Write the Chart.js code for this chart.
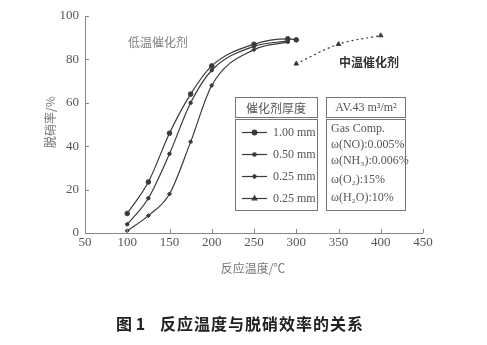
<!DOCTYPE html>
<html>
<head>
<meta charset="utf-8">
<script src="https://cdn.jsdelivr.net/npm/chart.js@4.4.0/dist/chart.umd.min.js"></script>
<style>
  html, body { margin: 0; padding: 0; background: #fff; }
  #wrap { width: 487px; height: 345px; }
</style>
</head>
<body>
<div id="wrap"><canvas id="c"></canvas></div>
<script>
// 温度 (℃) 与脱硝率 (%)
const temps1 = [100, 125, 150, 175, 200, 250, 290, 300];
const rate1 = [9, 23.5, 46, 64, 77, 87, 89.5, 89];       // 1.00 mm
const temps2 = [100, 125, 150, 175, 200, 250, 290];
const rate2 = [4, 16, 36.5, 60, 75, 86, 88.5];           // 0.50 mm
const temps3 = [100, 125, 150, 175, 200, 250, 290];
const rate3 = [1, 8, 18, 42, 68, 84.5, 88];              // 0.25 mm
const temps4 = [300, 350, 400];
const rate4 = [78, 87, 91];                              // 0.25 mm 中温

const xTicks = [50, 100, 150, 200, 250, 300, 350, 400, 450];
const yTicks = [0, 20, 40, 60, 80, 100];

const legendLabels = ['1.00 mm', '0.50 mm', '0.25 mm', '0.25 mm'];
const gasLines = ['Gas Comp.', 'ω(NO):0.005%', 'ω(NH₃):0.006%', 'ω(O₂):15%', 'ω(H₂O):10%'];

const ink = '#3a3a3a';
const serif = '"Liberation Serif", "DejaVu Serif", serif';
const cjk = '"Noto Sans CJK SC", sans-serif';

function pts(xs, ys) {
  return xs.map((x, i) => ({ x: x, y: ys[i] }));
}

function series(label, xs, ys, style, radius, dashed) {
  return {
    label: label,
    data: pts(xs, ys),
    borderColor: ink,
    backgroundColor: ink,
    borderWidth: 1.2,
    borderDash: dashed ? [2, 3] : [],
    pointStyle: style,
    pointRadius: radius,
    pointBorderWidth: 1,
    cubicInterpolationMode: 'monotone',
    tension: 0.4
  };
}

// 坐标轴刻度、注释文字和图例框
const decor = {
  id: 'decor',
  afterDraw(chart) {
    const ctx = chart.ctx;
    const xs = chart.scales.x, ys = chart.scales.y;
    const a = chart.chartArea;
    ctx.save();

    // 轴线与向内的刻度
    ctx.strokeStyle = '#888';
    ctx.lineWidth = 1;
    ctx.beginPath();
    ctx.moveTo(a.left + 0.5, a.top);
    ctx.lineTo(a.left + 0.5, a.bottom + 0.5);
    ctx.lineTo(a.right, a.bottom + 0.5);
    xTicks.forEach(v => {
      const px = Math.round(xs.getPixelForValue(v)) + 0.5;
      ctx.moveTo(px, a.bottom);
      ctx.lineTo(px, a.bottom - 4);
    });
    yTicks.forEach(v => {
      const py = Math.round(ys.getPixelForValue(v)) + 0.5;
      ctx.moveTo(a.left, py);
      ctx.lineTo(a.left + 4, py);
    });
    ctx.stroke();

    // 刻度文字
    ctx.fillStyle = '#555';
    ctx.font = '13px ' + serif;
    ctx.textAlign = 'center';
    ctx.textBaseline = 'middle';
    xTicks.forEach(v => ctx.fillText(String(v), xs.getPixelForValue(v), a.bottom + 10));
    ctx.textAlign = 'right';
    yTicks.forEach(v => ctx.fillText(String(v), a.left - 6, ys.getPixelForValue(v)));

    // 轴标题
    ctx.fillStyle = '#777';
    ctx.font = '12px ' + cjk;
    ctx.textAlign = 'center';
    ctx.fillText('反应温度/℃', 253, 268);
    ctx.save();
    ctx.translate(50, 122);
    ctx.rotate(-Math.PI / 2);
    ctx.fillText('脱硝率/%', 0, 0);
    ctx.restore();

    // 曲线注释
    ctx.fillStyle = '#808080';
    ctx.font = '12px ' + cjk;
    ctx.fillText('低温催化剂', 158, 42);
    ctx.fillStyle = '#333';
    ctx.font = 'bold 12px ' + cjk;
    ctx.fillText('中温催化剂', 369, 62);

    // 图例: 催化剂厚度 / 气体组成
    ctx.strokeStyle = '#777';
    ctx.lineWidth = 1;
    ctx.strokeRect(235.5, 97.5, 82, 20);
    ctx.strokeRect(235.5, 119.5, 82, 91);
    ctx.strokeRect(326.5, 97.5, 79, 20);
    ctx.strokeRect(326.5, 119.5, 79, 91);
    ctx.fillStyle = '#555';
    ctx.font = '12px ' + cjk;
    ctx.fillText('催化剂厚度', 276, 108);
    ctx.font = '12px ' + serif;
    ctx.fillText('AV.43 m³/m²', 366, 108);

    const rowY = [132, 154, 176, 198];
    const styles = ['circle', 'circle', 'rectRot', 'triangle'];
    const radii = [2.3, 1.7, 2, 2.6];
    ctx.textAlign = 'left';
    rowY.forEach((y, i) => {
      ctx.strokeStyle = ink;
      ctx.lineWidth = 1.2;
      ctx.beginPath();
      ctx.moveTo(242, y + 0.5);
      ctx.lineTo(267, y + 0.5);
      ctx.stroke();
      ctx.fillStyle = ink;
      Chart.helpers.drawPoint(ctx, { pointStyle: styles[i], radius: radii[i], borderWidth: 1 }, 254.5, y + 0.5);
      ctx.fillStyle = '#555';
      ctx.font = '12px ' + serif;
      ctx.fillText(legendLabels[i], 273, y + 1);
    });

    const gasY = [129, 145, 161, 180, 198];
    ctx.font = '12px ' + serif;
    gasLines.forEach((t, i) => ctx.fillText(t, 331, gasY[i]));

    // 图题
    ctx.fillStyle = '#222';
    ctx.font = 'bold 16px ' + cjk;
    ctx.textAlign = 'left';
    ctx.fillText('图 1', 116, 324);
    ctx.letterSpacing = '1px';
    ctx.fillText('反应温度与脱硝效率的关系', 160, 324);

    ctx.restore();
  }
};

new Chart(document.getElementById('c'), {
  type: 'line',
  data: {
    datasets: [
      series('1.00 mm', temps1, rate1, 'circle', 2.3, false),
      series('0.50 mm', temps2, rate2, 'circle', 1.7, false),
      series('0.25 mm', temps3, rate3, 'rectRot', 2, false),
      series('0.25 mm', temps4, rate4, 'triangle', 2.6, true)
    ]
  },
  options: {
    responsive: true,
    maintainAspectRatio: false,
    animation: false,
    layout: { padding: { left: 0, top: 16, right: 64, bottom: 0 } },
    plugins: {
      legend: { display: false },
      tooltip: { enabled: false }
    },
    scales: {
      x: {
        type: 'linear',
        min: 50,
        max: 450,
        grid: { display: false },
        border: { display: false },
        ticks: { display: false, stepSize: 50 },
        afterFit(s) { s.height = 112; }
      },
      y: {
        min: 0,
        max: 100,
        grid: { display: false },
        border: { display: false },
        ticks: { display: false, stepSize: 20 },
        afterFit(s) { s.width = 85; }
      }
    }
  },
  plugins: [decor]
});
</script>
</body>
</html>
